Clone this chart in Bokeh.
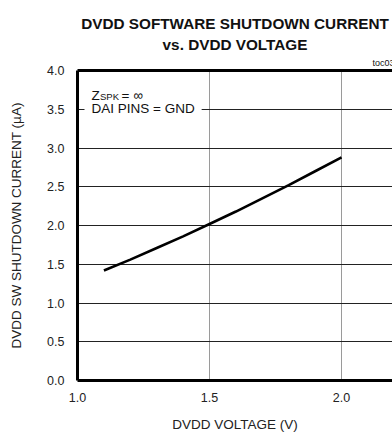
from bokeh.plotting import figure
from bokeh.models import Label, LinearAxis, FixedTicker, Range1d, Title
from bokeh.embed import file_html
from bokeh.resources import INLINE

# data
voltage = [1.1, 1.2, 1.3, 1.4, 1.5, 1.6, 1.7, 1.8, 1.9, 2.0]
current = [1.42, 1.56, 1.71, 1.86, 2.02, 2.18, 2.35, 2.52, 2.70, 2.88]
x_ticks = [1.0, 1.5, 2.0, 2.5]
y_ticks = [0.0, 0.5, 1.0, 1.5, 2.0, 2.5, 3.0, 3.5, 4.0]
title_lines = ["DVDD SOFTWARE SHUTDOWN CURRENT", "vs. DVDD VOLTAGE"]

FONT = "Liberation Sans"

p = figure(width=392, height=436, output_backend="svg", toolbar_location=None,
           x_range=Range1d(1.0, 2.193), y_range=Range1d(0.0, 4.0),
           min_border_left=77, min_border_right=0, min_border_top=70, min_border_bottom=56)
p.title = None
p.outline_line_color = None
p.background_fill_color = "white"
p.border_fill_color = "white"

for ax in (p.xaxis[0], p.yaxis[0]):
    ax.axis_line_width = 3
    ax.axis_line_color = "black"
    ax.major_tick_out = 0
    ax.major_tick_in = 0
    ax.minor_tick_out = 0
    ax.minor_tick_in = 0
    ax.major_label_text_font = FONT
    ax.major_label_text_font_size = "12.5px"
    ax.major_label_text_color = "#222222"
    ax.axis_label_text_font = FONT
    ax.axis_label_text_font_size = "13.5px"
    ax.axis_label_text_font_style = "normal"
    ax.axis_label_text_color = "#222222"

p.xaxis[0].ticker = FixedTicker(ticks=x_ticks)
p.yaxis[0].ticker = FixedTicker(ticks=y_ticks)
p.xaxis[0].major_label_overrides = {t: f"{t:.1f}" for t in x_ticks}
p.yaxis[0].major_label_overrides = {t: f"{t:.1f}" for t in y_ticks}
p.xaxis[0].axis_label = "DVDD VOLTAGE (V)"
p.yaxis[0].axis_label = "DVDD SW SHUTDOWN CURRENT (µA)"
p.xaxis[0].major_label_standoff = 12
p.yaxis[0].major_label_standoff = 13
p.xaxis[0].axis_label_standoff = 12
p.yaxis[0].axis_label_standoff = 20

top_axis = LinearAxis(ticker=FixedTicker(ticks=[]), axis_line_width=3, axis_line_color="black",
                      major_tick_out=0, major_tick_in=0, minor_tick_out=0, minor_tick_in=0)
p.add_layout(top_axis, "above")

# small figure code, then the two title lines (stacked outward from the frame)
p.add_layout(Title(text="toc03", align="right", offset=-2, standoff=5, text_font=FONT,
                   text_font_style="normal", text_font_size="9px", text_color="#111111"), "above")
p.add_layout(Title(text=title_lines[1], align="center", standoff=2, text_font=FONT,
                   text_font_style="bold", text_font_size="15.3px", text_color="#111111"), "above")
p.add_layout(Title(text=title_lines[0], align="center", standoff=1, text_font=FONT,
                   text_font_style="bold", text_font_size="15.3px", text_color="#111111"), "above")

p.xgrid[0].ticker = FixedTicker(ticks=x_ticks)
p.ygrid[0].ticker = FixedTicker(ticks=y_ticks)
p.xgrid[0].grid_line_color = "#9a9a9a"
p.xgrid[0].grid_line_width = 1
p.ygrid[0].grid_line_color = "#222222"
p.ygrid[0].grid_line_width = 1

p.line(voltage, current, line_color="black", line_width=2.6)

# annotation inside the frame
tstyle = dict(text_font=FONT, text_color="#111111")
p.add_layout(Label(x=1.0, y=4.0, x_offset=7, y_offset=-38, text="DAI PINS = GND", text_font_size="13.5px",
                   background_fill_color="white", padding=7, text_baseline="alphabetic", **tstyle))
p.add_layout(Label(x=1.0, y=4.0, x_offset=14, y_offset=-24.5, text="Z", text_font_size="13.5px",
                   text_baseline="alphabetic", **tstyle))
p.add_layout(Label(x=1.0, y=4.0, x_offset=22.5, y_offset=-26, text="SPK", text_font_size="9.5px",
                   text_baseline="alphabetic", **tstyle))
p.add_layout(Label(x=1.0, y=4.0, x_offset=44, y_offset=-24.5, text="= ∞", text_font_size="13.5px",
                   text_baseline="alphabetic", **tstyle))

open("out.html", "w").write(file_html(p, INLINE))
